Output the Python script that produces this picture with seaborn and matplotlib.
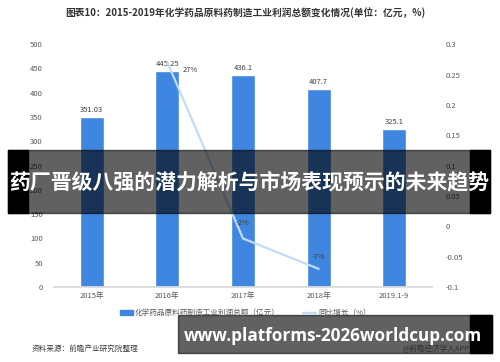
import matplotlib
matplotlib.use("Agg")
import matplotlib.pyplot as plt
import seaborn as sns
import pandas as pd
from matplotlib.patches import Rectangle, Patch
from matplotlib.lines import Line2D

# data
years = ["2015年", "2016年", "2017年", "2018年", "2019.1-9"]
profit = [351.03, 445.25, 436.1, 407.7, 325.1]
growth_years = ["2016年", "2017年", "2018年"]
growth = [0.27, -0.02, -0.07]
growth_labels = ["27%", "-2%", "-7%"]
left_ticks = [0, 50, 100, 150, 200, 250, 300, 350, 400, 450, 500]
right_ticks = [-0.1, -0.05, 0, 0.05, 0.1, 0.15, 0.2, 0.25, 0.3]

BAR = "#3f86e0"
LINE = "#c2dcf7"
GREY = "#595959"

sns.set_theme(style="white")
plt.rcParams["font.family"] = ["Noto Sans CJK SC", "DejaVu Sans"]

df = pd.DataFrame({"year": years, "profit": profit})

fig = plt.figure(figsize=(5, 3.62), dpi=100)
ax = fig.add_axes([0.108, 0.207, 0.756, 0.671])
sns.barplot(data=df, x="year", y="profit", color=BAR, width=0.32,
            saturation=1, ax=ax)
ax.set_ylim(0, 500)
ax.set_yticks(left_ticks)
ax.set_xlabel("")
ax.set_ylabel("")
for s in ["top", "right", "left"]:
    ax.spines[s].set_visible(False)
ax.spines["bottom"].set_color("#d9d9d9")
ax.tick_params(axis="both", length=0, labelsize=5.5, labelcolor=GREY)
ax.tick_params(axis="y", pad=8)
for i, v in enumerate(profit):
    ax.text(i, v + 6, f"{v:g}", ha="center", va="bottom", fontsize=5.5, color="#404040")

ax2 = ax.twinx()
gx = [years.index(y) for y in growth_years]
sns.lineplot(x=gx, y=growth, ax=ax2, color=LINE, linewidth=1.6)
ax2.set_ylim(-0.1, 0.3)
ax2.set_yticks(right_ticks)
ax2.set_yticklabels([f"{v:g}" for v in right_ticks])
ax2.set_xlim(-0.5, 4.5)
for s in ["top", "right", "left", "bottom"]:
    ax2.spines[s].set_visible(False)
ax2.tick_params(axis="y", length=0, labelsize=5.5, labelcolor=GREY, pad=10)
offsets = [(0.2, -0.012, "left"), (0.0, 0.025, "center"), (0.0, 0.02, "center")]
for x, v, lab, (dx, dy, ha) in zip(gx, growth, growth_labels, offsets):
    ax2.text(x + dx, v + dy, lab, ha=ha, va="center", fontsize=5.5, color="#404040")

fig.text(0.49, 0.964, "图表10：2015-2019年化学药品原料药制造工业利润总额变化情况(单位：亿元，%)",
         ha="center", va="center", fontsize=7, fontweight="bold", color="#333333")

handles = [Patch(color=BAR), Line2D([0], [0], color=LINE, linewidth=1.6)]
fig.legend(handles, ["化学药品原料药制造工业利润总额（亿元）", "同比增长（%）"],
           loc="center", bbox_to_anchor=(0.49, 0.135), ncol=2, frameon=False,
           fontsize=5.5, labelcolor=GREY, handlelength=1.8, handleheight=0.5,
           columnspacing=3, handletextpad=0.2)

fig.text(0.064, 0.036, "资料来源：前瞻产业研究院整理", ha="left", va="center",
         fontsize=5.5, color="#404040")
fig.text(0.94, 0.036, "@前瞻经济学人APP", ha="right", va="center",
         fontsize=5.5, color="#7f7f7f")

# overlay banner across the middle
fig.patches.append(Rectangle((0.016, 1 - 213 / 362), 0.964, 63 / 362,
                             transform=fig.transFigure, color="black", alpha=0.62, zorder=5))
fig.patches.append(Rectangle((0.016, 1 - 213 / 362), 0.04, 63 / 362,
                             transform=fig.transFigure, color="black", zorder=5))
fig.patches.append(Rectangle((0.94, 1 - 213 / 362), 0.04, 63 / 362,
                             transform=fig.transFigure, color="black", zorder=5))
fig.text(0.498, 1 - 182 / 362, "药厂晋级八强的潜力解析与市场表现预示的未来趋势",
         ha="center", va="center", fontsize=15, fontweight="bold", color="white", zorder=6)

# overlay banner at the bottom
fig.patches.append(Rectangle((0.356, 1 - 353 / 362), 0.628, 38 / 362,
                             transform=fig.transFigure, color="black", alpha=0.62, zorder=5))
fig.patches.append(Rectangle((0.94, 1 - 353 / 362), 0.044, 38 / 362,
                             transform=fig.transFigure, color="black", zorder=5))
fig.text(0.666, 1 - 336 / 362, "www.platforms-2026worldcup.com", ha="center", va="center",
         fontsize=12.3, fontweight="bold", color="white", family="Open Sans", zorder=6)

fig.savefig("out.png", dpi=100)
